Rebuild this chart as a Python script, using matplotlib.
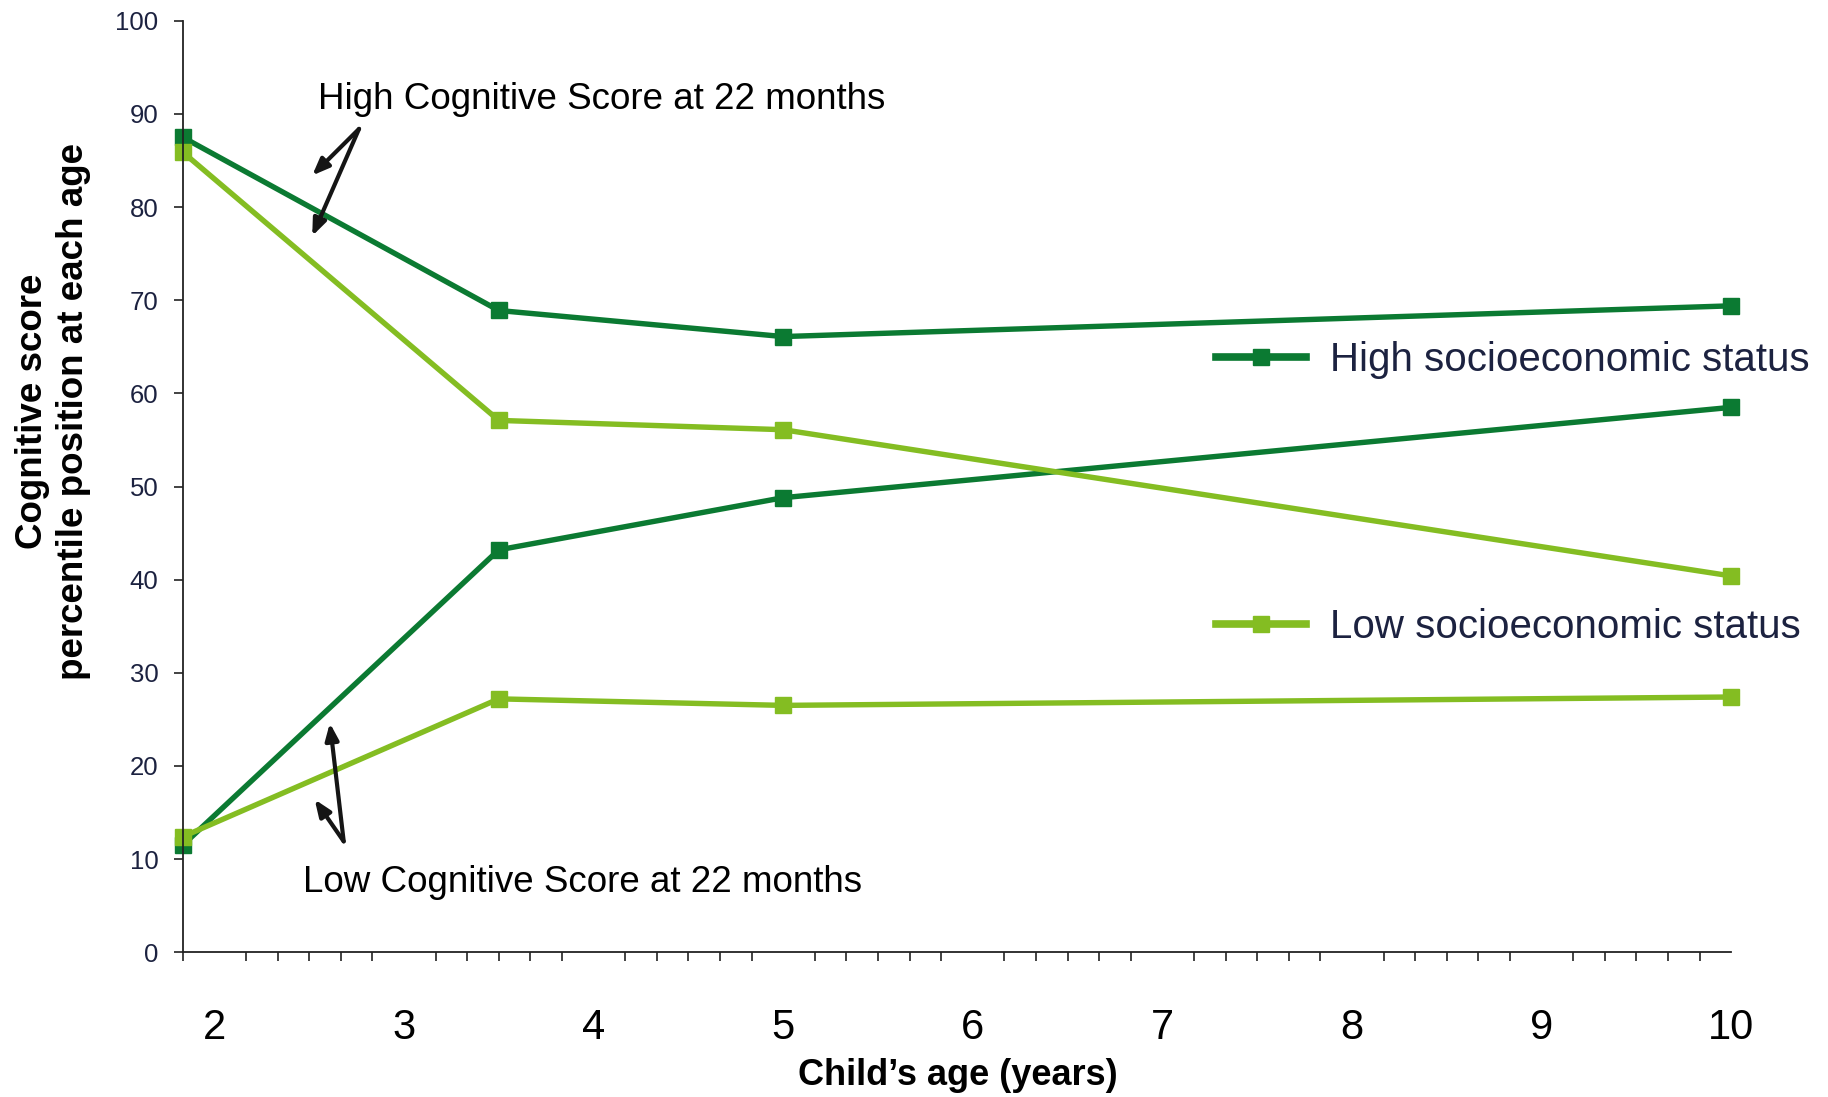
import numpy as np
import matplotlib
matplotlib.use("Agg")
import matplotlib.pyplot as plt
from matplotlib.lines import Line2D

# ages in years (22 months, 42 months, 5 and 10 years)
ages = [22 / 12, 3.5, 5, 10]

# percentile positions
high_ses_high_cog = [87.5, 68.9, 66.1, 69.4]
low_ses_high_cog = [85.9, 57.1, 56.1, 40.4]
high_ses_low_cog = [11.5, 43.2, 48.8, 58.5]
low_ses_low_cog = [12.4, 27.2, 26.5, 27.4]

year_ticks = [2, 3, 4, 5, 6, 7, 8, 9, 10]
y_ticks = [0, 10, 20, 30, 40, 50, 60, 70, 80, 90, 100]

dark_green = "#0b7a32"
light_green = "#84bd22"
navy = "#1c2240"

plt.rcParams["font.family"] = ["Liberation Sans", "DejaVu Sans"]

fig = plt.figure(figsize=(18.28, 10.97), dpi=100)
ax = fig.add_axes([0.1, 0.132, 0.847, 0.849])

line_kw = dict(lw=3.9, marker="s", markersize=12, solid_joinstyle="miter",
               clip_on=False)
ax.plot(ages, high_ses_high_cog, color=dark_green, **line_kw)
ax.plot(ages, high_ses_low_cog, color=dark_green, **line_kw)
ax.plot(ages, low_ses_high_cog, color=light_green, **line_kw)
ax.plot(ages, low_ses_low_cog, color=light_green, **line_kw)

ax.set_xlim(22 / 12, 10)
ax.set_ylim(0, 100)
for s in ["top", "right"]:
    ax.spines[s].set_visible(False)
for s in ["left", "bottom"]:
    ax.spines[s].set_linewidth(1.3)
    ax.spines[s].set_color("#222222")

ax.set_yticks(y_ticks)
ax.tick_params(axis="y", direction="out", length=6.5, width=1.2, pad=11,
               labelsize=18.5, labelcolor=navy, color="#222222")

# major labels without marks, a small tick every two months
ax.set_xticks(year_ticks)
ax.set_xticks(np.arange(22, 121, 2) / 12, minor=True)
ax.tick_params(axis="x", which="major", length=0, pad=40, labelsize=30)
ax.tick_params(axis="x", which="minor", direction="out", length=6.5,
               width=1.2, color="#222222")

fig.text(0.524, 0.02, "Child\u2019s age (years)", ha="center", va="center",
         fontsize=26, fontweight="bold")
fig.text(0.029, 0.625, "Cognitive score\npercentile position at each age",
         rotation=90, ha="center", va="center", multialignment="center",
         fontsize=26.5, fontweight="bold", linespacing=1.2)

# annotations with the hand drawn arrows
ax.text(2.547, 91.6, "High Cognitive Score at 22 months", fontsize=26.5,
        ha="left", va="center")
ax.text(2.467, 7.5, "Low Cognitive Score at 22 months", fontsize=26.5,
        ha="left", va="center")
arrow = dict(arrowstyle="-|>,head_length=1.0,head_width=0.4", lw=3,
             color="#151515", shrinkA=0, shrinkB=0)
ax.annotate("", xy=(2.516, 83.4), xytext=(2.763, 88.4), arrowprops=arrow)
ax.annotate("", xy=(2.516, 76.9), xytext=(2.763, 88.4), arrowprops=arrow)
ax.annotate("", xy=(2.609, 24.6), xytext=(2.682, 11.9), arrowprops=arrow)
ax.annotate("", xy=(2.529, 16.4), xytext=(2.682, 11.9), arrowprops=arrow)

# two separate legend entries
leg_kw = dict(loc="center left", frameon=False, borderpad=0, borderaxespad=0,
              handlelength=2.25, handletextpad=0.6, numpoints=1,
              fontsize=29, labelcolor=navy)
h1 = Line2D([], [], color=dark_green, lw=5.5, marker="s", markersize=12)
h2 = Line2D([], [], color=light_green, lw=5.5, marker="s", markersize=12)
leg1 = ax.legend([h1], ["High socioeconomic status"],
                 bbox_to_anchor=(0.667, 0.636), **leg_kw)
ax.add_artist(leg1)
ax.legend([h2], ["Low socioeconomic status"],
          bbox_to_anchor=(0.667, 0.349), **leg_kw)

fig.savefig("out.png", dpi=100)
